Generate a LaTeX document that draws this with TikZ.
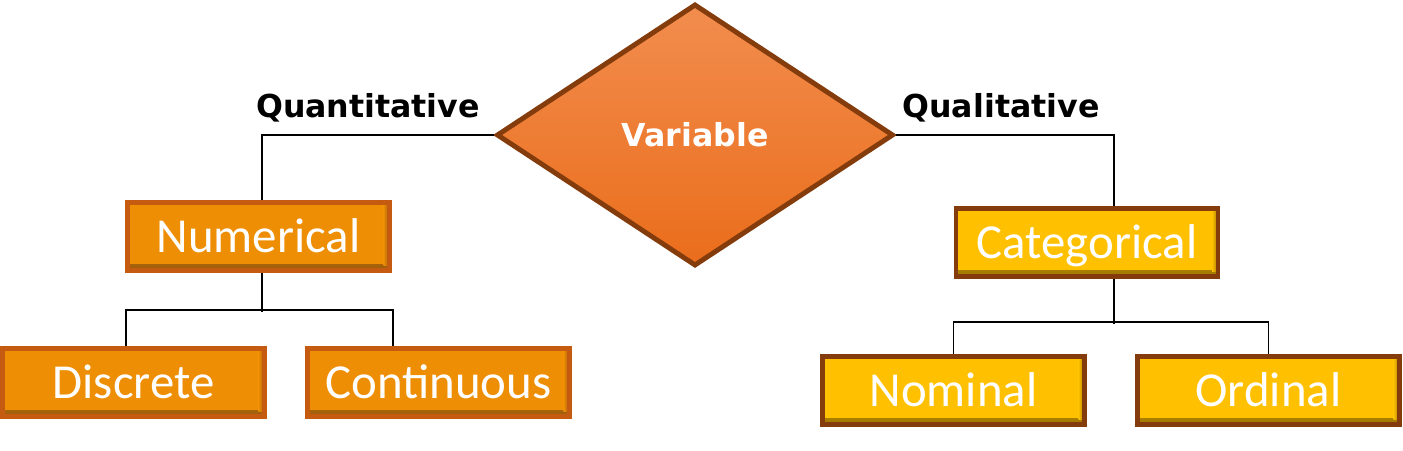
\documentclass[tikz,border=0pt]{standalone}
\usepackage{fontspec}
\usetikzlibrary{shapes.geometric}
\newfontfamily\boxfont{Carlito}
\newfontfamily\labfont{DejaVu Sans}
\definecolor{numfill}{HTML}{EE8E04}
\definecolor{numdark}{HTML}{9E5E0C}
\definecolor{numedge}{HTML}{C55A11}
\definecolor{catfill}{HTML}{FFC000}
\definecolor{catdark}{HTML}{A07800}
\definecolor{catedge}{HTML}{843C0C}
\definecolor{vartop}{HTML}{F28D4E}
\definecolor{varmid}{HTML}{F47D2B}
\definecolor{varbot}{HTML}{EA6D1B}
\tikzset{
  basebox/.style={rectangle, line width=2.6pt, minimum width=5.24cm, minimum height=1.36cm,
    inner sep=0pt, text=white, font=\boxfont\fontsize{27.8}{30}\selectfont,
    text height=17.9pt, text depth=0pt},
  bevel/.style 2 args={fill=#1, path picture={
      \shade[top color=#1, bottom color=#2]
        ([yshift=0.12cm]path picture bounding box.south west) rectangle (path picture bounding box.south east);
      \shade[left color=#1, right color=#2]
        ([xshift=-0.12cm]path picture bounding box.north east) rectangle ([yshift=0.1cm]path picture bounding box.south east);
    }},
  numbox/.style={basebox, draw=numedge, bevel={numfill}{numdark}},
  catbox/.style={basebox, draw=catedge, bevel={catfill}{catdark}},
  vardiamond/.style={diamond, draw=catedge, line width=2.8pt,
    top color=vartop, middle color=varmid, bottom color=varbot,
    minimum width=7.94cm, minimum height=5.24cm, inner sep=0pt, text=white,
    font=\labfont\bfseries\fontsize{18}{20}\selectfont, text height=13.1pt, text depth=0pt},
  sidelabel/.style={font=\labfont\bfseries\fontsize{18}{20}\selectfont, anchor=base, inner sep=0pt},
  link/.style={line width=1pt, black}
}
\begin{document}
\begin{tikzpicture}
      \useasboundingbox (0,0) rectangle (28.06,9);
      % top
      \node[vardiamond] (var) at (13.9,6.3) {Variable};
      \node[sidelabel] (quant) at (7.36,6.64) {Quantitative};
      \node[sidelabel] (qual) at (20.02,6.64) {Qualitative};
      % left branch
      \node[numbox] (num) at (5.17,4.27) {Numerical};
      \node[numbox] (disc) at (2.67,1.35) {Discrete};
      \node[numbox] (cont) at (8.77,1.35) {Continuous};
      % right branch
      \node[catbox] (cat) at (21.74,4.15) {Categorical};
      \node[catbox] (nom) at (19.07,1.19) {Nominal};
      \node[catbox] (ord) at (25.37,1.19) {Ordinal};
      % links
      \draw[link] (var.west) -| ([xshift=0.07cm]num.north);
      \draw[link] ([xshift=0.07cm]num.south) -- ++(0,-0.74) coordinate (numjoin) -- ++(0,-0.04);
      \draw[link] ([xshift=-0.15cm]disc.north) |- (numjoin) -| ([xshift=-0.91cm]cont.north);
      \draw[link] (var.east) -| ([xshift=0.54cm]cat.north);
      \draw[link] ([xshift=0.54cm]cat.south) -- ++(0,-0.86) coordinate (catjoin) -- ++(0,-0.04);
      \draw[link] (nom.north) |- (catjoin) -| (ord.north);
    \end{tikzpicture}
\end{document}
